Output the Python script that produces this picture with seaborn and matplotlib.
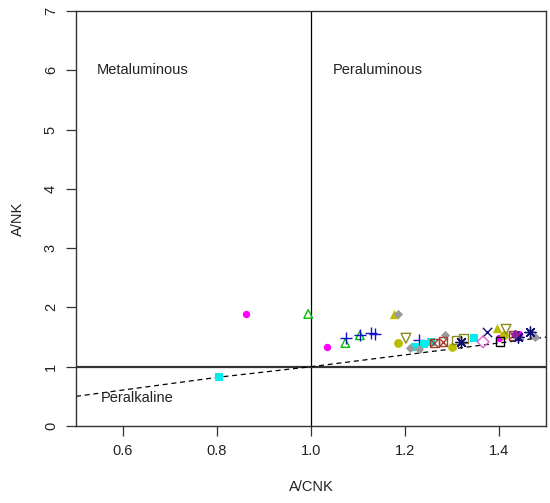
import pandas as pd
import matplotlib
matplotlib.use("Agg")
import matplotlib.pyplot as plt
import seaborn as sns

# sample groups: A/CNK and A/NK values
mag_circ_x = [0.862, 1.034, 1.217, 1.400, 1.443]
mag_circ_y = [1.89, 1.33, 1.33, 1.48, 1.55]
grn_tri_x = [0.994, 1.073, 1.104]
grn_tri_y = [1.89, 1.40, 1.53]
blu_plus_x = [1.074, 1.104, 1.128, 1.136, 1.230, 1.234]
blu_plus_y = [1.48, 1.53, 1.57, 1.55, 1.45, 1.35]
cyan_sq_x = [0.804, 1.222, 1.240, 1.255, 1.347]
cyan_sq_y = [0.83, 1.33, 1.38, 1.42, 1.48]
olv_tri_x = [1.177, 1.396]
olv_tri_y = [1.89, 1.65]
olv_circ_x = [1.185, 1.300, 1.410]
olv_circ_y = [1.40, 1.33, 1.53]
olv_vtri_x = [1.202, 1.415]
olv_vtri_y = [1.48, 1.63]
gray_dia_x = [1.185, 1.210, 1.230, 1.285, 1.477]
gray_dia_y = [1.89, 1.32, 1.30, 1.53, 1.50]
brn_sqx_x = [1.262, 1.281, 1.430]
brn_sqx_y = [1.40, 1.42, 1.53]
olv_sq_x = [1.310, 1.325]
olv_sq_y = [1.45, 1.47]
navy_ast_x = [1.320, 1.440, 1.466]
navy_ast_y = [1.42, 1.50, 1.59]
navy_x_x = [1.374]
navy_x_y = [1.59]
orc_dia_x = [1.366]
orc_dia_y = [1.42]
blk_sq_x = [1.402]
blk_sq_y = [1.42]
pur_dia_x = [1.435]
pur_dia_y = [1.55]

# Peralkaline boundary (dashed)
bound_x = [0.5, 0.8, 1.0, 1.2, 1.5]
bound_y = [0.5, 0.82, 1.0, 1.2, 1.5]

groups = [
    # x, y, marker, color, filled, size
    (mag_circ_x, mag_circ_y, "o", "#FF00FF", True, 28),
    (grn_tri_x, grn_tri_y, "^", "#00C000", False, 38),
    (blu_plus_x, blu_plus_y, "+", "#1010C8", True, 80),
    (cyan_sq_x, cyan_sq_y, "s", "#00EEEE", True, 40),
    (olv_tri_x, olv_tri_y, "^", "#BDBD00", True, 45),
    (olv_circ_x, olv_circ_y, "o", "#BDBD00", True, 40),
    (olv_vtri_x, olv_vtri_y, "v", "#8A8A20", False, 50),
    (gray_dia_x, gray_dia_y, "D", "#9A9A9A", True, 22),
    (brn_sqx_x, brn_sqx_y, "s", "#A0402A", False, 40),
    (brn_sqx_x, brn_sqx_y, "x", "#A0402A", True, 26),
    (olv_sq_x, olv_sq_y, "s", "#8A8A20", False, 40),
    (navy_ast_x, navy_ast_y, (8, 2, 0), "#101070", True, 65),
    (navy_x_x, navy_x_y, "x", "#101070", True, 45),
    (orc_dia_x, orc_dia_y, "D", "#E060D0", False, 36),
    (blk_sq_x, blk_sq_y, "s", "#000000", False, 40),
    (pur_dia_x, pur_dia_y, "D", "#9020A0", True, 25),
]

sns.set_style("ticks")
plt.rcParams["font.family"] = ["Liberation Sans", "DejaVu Sans"]

fig = plt.figure(figsize=(5.5, 5.03), dpi=100)
ax = fig.add_axes([76 / 550, 77 / 503, 470 / 550, 415 / 503])

ax.axvline(1.0, color="black", lw=0.9, zorder=1)
ax.axhline(1.0, color="#333333", lw=1.6, zorder=1)
sns.lineplot(x=bound_x, y=bound_y, ax=ax, color="black", lw=0.9,
             linestyle=(0, (4, 3)), zorder=1)

for gx, gy, mk, col, filled, sz in groups:
    df = pd.DataFrame({"x": gx, "y": gy})
    if filled:
        sns.scatterplot(data=df, x="x", y="y", ax=ax, marker=mk, color=col,
                        s=sz, linewidth=1.0 if mk in ("+", "x") or isinstance(mk, tuple) else 0,
                        edgecolor=col, zorder=3)
    else:
        sns.scatterplot(data=df, x="x", y="y", ax=ax, marker=mk, s=sz,
                        facecolors="none", edgecolor=col, linewidth=1.0, zorder=3)

txt_kw = dict(fontsize=10.5, color="#222222", va="center")
ax.text(0.545, 6.0, "Metaluminous", **txt_kw)
ax.text(1.047, 6.0, "Peraluminous", **txt_kw)
ax.text(0.553, 0.48, "Peralkaline", **txt_kw)

ax.set_xlim(0.5, 1.5)
ax.set_ylim(0, 7)
ax.set_xticks([0.6, 0.8, 1.0, 1.2, 1.4])
ax.set_xticklabels(["0.6", "0.8", "1.0", "1.2", "1.4"])
ax.set_yticks(range(8))
for lab in ax.get_yticklabels():
    lab.set_rotation(90)
    lab.set_va("center")
ax.tick_params(direction="out", length=7, width=0.9, color="#333333",
               labelsize=10.5, labelcolor="#222222", pad=6)
for sp in ax.spines.values():
    sp.set_visible(True)
    sp.set_color("#333333")
    sp.set_linewidth(1.0)

ax.set_xlabel("A/CNK", fontsize=10.5, color="#222222", labelpad=16)
ax.set_ylabel("A/NK", fontsize=10.5, color="#222222", labelpad=14)

fig.savefig("out.png", dpi=100)
